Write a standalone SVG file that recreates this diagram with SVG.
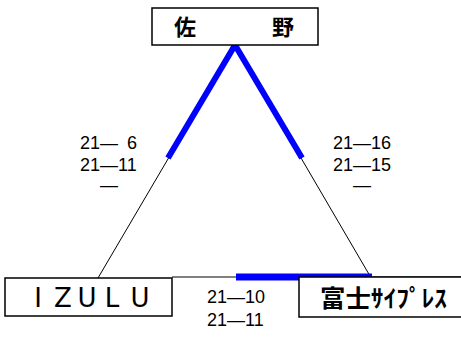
<svg xmlns="http://www.w3.org/2000/svg" width="461" height="338" viewBox="0 0 461 338">
<style>
.box{fill:#fff;stroke:#000;stroke-width:1.5}
.thin{stroke:#000;stroke-width:1;fill:none}
.blue{stroke:#0000ff;stroke-width:6;fill:none}
.lbl{font-family:"Liberation Sans","DejaVu Sans",sans-serif;font-size:18px;fill:#000}
.jp{font-family:"Noto Sans CJK JP","DejaVu Sans",sans-serif;font-weight:bold;fill:#000}
.en{font-family:"DejaVu Sans","Liberation Sans",sans-serif;font-size:26px;fill:#000}
</style>
<rect width="461" height="338" fill="#fff"/>
<g id="connectors">
<line class="thin" x1="235" y1="45" x2="98" y2="278"/>
<line class="thin" x1="235" y1="45" x2="370" y2="276"/>
<line class="thin" x1="172" y1="277" x2="461" y2="277"/>
<line class="blue" x1="235" y1="45" x2="168" y2="158"/>
<line class="blue" x1="235" y1="45" x2="302" y2="158"/>
<line class="blue" x1="236" y1="277" x2="372" y2="277" style="stroke-width:7"/>
</g>
<g id="sano">
<rect class="box" x="152" y="8" width="166" height="37"/>
<text class="jp" x="185" y="35" font-size="22" text-anchor="middle">佐</text>
<text class="jp" x="283" y="35" font-size="22" text-anchor="middle">野</text>
</g>
<g id="izulu">
<rect class="box" x="5" y="278" width="167" height="38"/>
<text class="en" y="307" text-anchor="middle"><tspan x="38">I</tspan><tspan x="63">Z</tspan><tspan x="87">U</tspan><tspan x="112">L</tspan><tspan x="140">U</tspan></text>
</g>
<g id="fuji">
<rect class="box" x="299" y="277" width="170" height="40"/>
<text class="jp" x="320" y="307" font-size="24" textLength="127" lengthAdjust="spacingAndGlyphs">富士ｻｲﾌﾟﾚｽ</text>
</g>
<g id="labels">
<text class="lbl" x="80" y="149">21—<tspan x="127">6</tspan></text>
<text class="lbl" x="80" y="171">21—11</text>
<text class="lbl" x="100" y="191">—</text>
<text class="lbl" x="333" y="149">21—16</text>
<text class="lbl" x="333" y="171">21—15</text>
<text class="lbl" x="353" y="191">—</text>
<text class="lbl" x="207" y="303">21—10</text>
<text class="lbl" x="207" y="326">21—11</text>
</g>
</svg>
